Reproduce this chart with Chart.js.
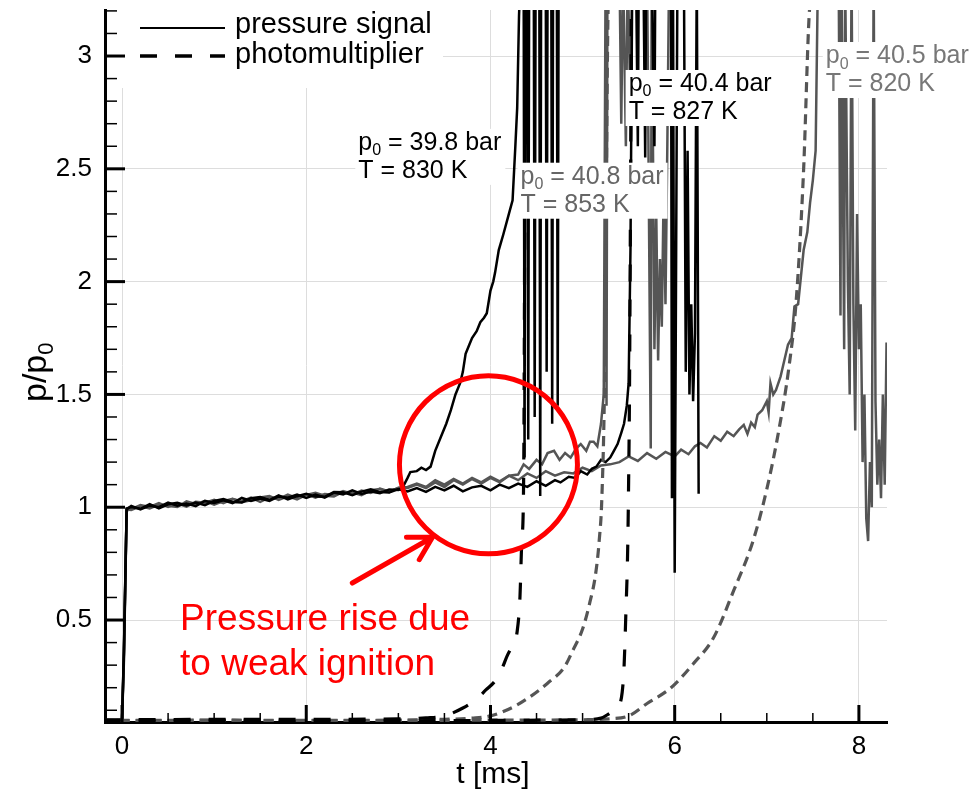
<!DOCTYPE html>
<html>
<head>
<meta charset="utf-8">
<script src="https://cdn.jsdelivr.net/npm/chart.js@4.4.0/dist/chart.umd.min.js"></script>
<style>
    html, body { margin: 0; padding: 0; background: #fff; }
</style>
</head>
<body>
<canvas id="myChart" width="973" height="791"></canvas>
<script>
// time axis (ms) shared by the four pressure traces up to 3 ms
const tPlateau = [-0.2, -0.1, 0.0, 0.02, 0.05, 0.1, 0.2, 0.3, 0.4, 0.5, 0.6, 0.7, 0.8, 0.9, 1.0,
    1.1, 1.2, 1.3, 1.4, 1.5, 1.6, 1.7, 1.8, 1.9, 2.0, 2.1, 2.2, 2.3, 2.4, 2.5, 2.6, 2.7, 2.8, 2.9, 3.0];

// pressure signal p/p0 up to 3 ms
const p398Plateau = [0.056, 0.055, 0.057, 0.36, 0.99, 1.006, 0.99, 1.007, 1.0, 1.021, 1.007, 1.016, 1.005, 1.028, 1.019,
    1.031, 1.018, 1.041, 1.028, 1.039, 1.028, 1.048, 1.042, 1.056, 1.041, 1.056, 1.043, 1.065, 1.057, 1.075, 1.059, 1.07, 1.062, 1.079, 1.076];
const p408Plateau = [0.055, 0.056, 0.056, 0.33, 0.985, 0.992, 1.01, 1.001, 1.018, 1.001, 1.016, 1.003, 1.024, 1.02, 1.033,
    1.018, 1.036, 1.027, 1.043, 1.024, 1.044, 1.037, 1.056, 1.04, 1.057, 1.042, 1.059, 1.055, 1.071, 1.056, 1.074, 1.063, 1.083, 1.07, 1.085];
const p404Plateau = [0.057, 0.056, 0.058, 0.35, 0.995, 1.001, 0.993, 1.014, 0.995, 1.013, 1.02, 1.008, 1.021, 1.009, 1.028,
    1.036, 1.023, 1.021, 1.04, 1.045, 1.032, 1.053, 1.035, 1.049, 1.06, 1.047, 1.046, 1.067, 1.066, 1.053, 1.069, 1.079, 1.067, 1.065, 1.08];
const p405Plateau = [0.055, 0.057, 0.056, 0.31, 0.99, 0.988, 1.004, 0.995, 1.012, 1.006, 1.001, 1.026, 1.015, 1.027, 1.011,
    1.027, 1.037, 1.022, 1.031, 1.043, 1.05, 1.032, 1.048, 1.035, 1.055, 1.064, 1.051, 1.048, 1.068, 1.065, 1.054, 1.075, 1.081, 1.067, 1.086];

// pressure signal after 3 ms (values above 3.2 run off the top)
const p398TailT = [3.05, 3.1, 3.13, 3.2, 3.25, 3.3, 3.35, 3.4, 3.46, 3.52, 3.57, 3.62, 3.67, 3.7, 3.73, 3.77, 3.8, 3.85,
    3.89, 3.93, 3.96, 4.0, 4.03, 4.05, 4.09, 4.14, 4.2, 4.24, 4.27, 4.29, 4.31, 4.33,
    4.36, 4.37, 4.38, 4.40, 4.41, 4.42, 4.47, 4.48, 4.49, 4.53, 4.54, 4.55, 4.6, 4.61, 4.62, 4.66, 4.67, 4.68, 4.72, 4.73, 4.74];
const p398TailV = [1.09, 1.13, 1.156, 1.16, 1.175, 1.165, 1.18, 1.25, 1.31, 1.37, 1.43, 1.5, 1.55, 1.6, 1.68, 1.72, 1.75, 1.78,
    1.82, 1.84, 1.86, 1.96, 2.0, 2.04, 2.14, 2.21, 2.3, 2.36, 2.6, 2.77, 3.18, 3.4,
    3.4, 1.22, 3.4, 3.4, 1.3, 3.4, 3.4, 1.4, 3.4, 3.4, 1.05, 3.4, 3.4, 1.6, 3.4, 3.4, 1.37, 3.4, 3.4, 1.45, 3.4];

const p408TailT = [3.1, 3.2, 3.3, 3.4, 3.5, 3.6, 3.7, 3.8, 3.9, 4.0, 4.1, 4.2, 4.3, 4.36, 4.42, 4.5, 4.56, 4.62, 4.69,
    4.75, 4.81, 4.87, 4.93, 4.98, 5.04, 5.08, 5.12, 5.16, 5.2, 5.23, 5.25,
    5.26, 5.27, 5.4, 5.42, 5.44, 5.47, 5.49, 5.52, 5.54, 5.7, 5.74, 5.75, 5.78, 5.8, 5.82, 5.84, 5.86, 5.88, 5.9, 5.92, 5.94];
const p408TailV = [1.085, 1.1, 1.085, 1.11, 1.09, 1.12, 1.1, 1.125, 1.105, 1.13, 1.11, 1.14, 1.145, 1.19, 1.17, 1.21, 1.19, 1.24, 1.25,
    1.21, 1.24, 1.22, 1.26, 1.28, 1.25, 1.29, 1.29, 1.27, 1.37, 1.5, 3.4,
    1.45, 3.4, 3.4, 2.7, 3.4, 2.6, 3.4, 2.75, 3.4, 3.4, 1.26, 3.4, 1.7, 2.3, 1.65, 2.1, 1.8, 2.4, 1.9, 2.6, 3.4];

const p404TailT = [3.1, 3.2, 3.3, 3.4, 3.5, 3.6, 3.7, 3.8, 3.9, 4.0, 4.1, 4.2, 4.3, 4.4, 4.5, 4.6, 4.7, 4.76, 4.85, 4.92,
    4.98, 5.05, 5.1, 5.15, 5.2, 5.25, 5.3, 5.34, 5.38, 5.42, 5.45, 5.48, 5.5, 5.52, 5.54,
    5.58, 5.6, 5.61, 5.66, 5.68, 5.69, 5.75, 5.78, 5.79, 5.96, 5.97, 5.98, 6.0, 6.03, 6.1, 6.12, 6.14, 6.16, 6.18, 6.2, 6.22, 6.24, 6.26];
const p404TailV = [1.07, 1.085, 1.068, 1.09, 1.075, 1.095, 1.07, 1.088, 1.095, 1.075, 1.1, 1.085, 1.105, 1.09, 1.115, 1.095, 1.12, 1.11, 1.135, 1.13,
    1.16, 1.145, 1.17, 1.18, 1.21, 1.2, 1.22, 1.25, 1.28, 1.33, 1.37, 1.45, 1.55, 2.14, 3.4,
    3.4, 2.6, 3.4, 3.4, 2.55, 3.4, 3.4, 2.6, 3.4, 3.4, 1.04, 3.4, 0.71, 3.4, 3.4, 1.6, 2.58, 1.5, 1.9, 1.47, 1.77, 3.4, 1.06];

const p405TailT = [3.1, 3.2, 3.3, 3.4, 3.5, 3.6, 3.7, 3.8, 3.9, 4.0, 4.1, 4.2, 4.3, 4.4, 4.5, 4.6, 4.7, 4.8, 4.9, 5.0,
    5.1, 5.2, 5.3, 5.4, 5.5, 5.6, 5.7, 5.8, 5.9, 6.0, 6.07, 6.15, 6.22, 6.28, 6.35, 6.43, 6.5, 6.57, 6.64, 6.7,
    6.75, 6.79, 6.83, 6.87, 6.9, 6.95, 7.0, 7.02, 7.04, 7.07, 7.1, 7.15, 7.19, 7.23, 7.27, 7.3, 7.34, 7.37, 7.4,
    7.44, 7.47, 7.5, 7.53, 7.55, 7.56,
    7.78, 7.8, 7.81, 7.84, 7.85, 7.88, 7.9, 7.92, 7.94, 7.96, 7.98, 8.0, 8.02, 8.04, 8.06, 8.08, 8.1, 8.12, 8.14,
    8.16, 8.18, 8.2, 8.22, 8.24, 8.26, 8.28, 8.3];
const p405TailV = [1.09, 1.105, 1.09, 1.12, 1.1, 1.125, 1.105, 1.13, 1.11, 1.135, 1.115, 1.14, 1.12, 1.15, 1.13, 1.16, 1.14, 1.155, 1.15, 1.175,
    1.16, 1.185, 1.19, 1.2, 1.225, 1.205, 1.24, 1.215, 1.245, 1.225, 1.255, 1.235, 1.27, 1.285, 1.265, 1.315, 1.295, 1.335, 1.315, 1.345,
    1.365, 1.325, 1.375, 1.355, 1.41, 1.43, 1.47, 1.42, 1.55, 1.5, 1.52, 1.58, 1.65, 1.72, 1.75, 1.89, 1.9, 2.02, 2.14,
    2.22, 2.35, 2.45, 2.58, 3.2, 3.4,
    3.4, 1.85, 3.4, 1.7, 3.4, 2.0, 1.5, 3.4, 1.9, 1.34, 2.3, 1.7, 1.9, 1.2, 1.5, 0.95, 0.85, 1.2, 1.0,
    3.4, 1.47, 1.1, 1.3, 1.04, 1.5, 1.1, 1.73];

// photomultiplier signals
const pm398T = [-0.2, 0, 1, 2, 3.0, 3.3, 3.5, 3.7, 3.85, 3.95, 4.05, 4.12, 4.18, 4.24, 4.29, 4.32, 4.34, 4.36, 4.38];
const pm398V = [0.058, 0.058, 0.06, 0.06, 0.062, 0.066, 0.075, 0.11, 0.15, 0.19, 0.23, 0.28, 0.34, 0.39, 0.45, 0.6, 0.85, 1.12, 3.3];
const pm408T = [-0.2, 0, 1, 2, 3.0, 3.5, 3.8, 4.0, 4.25, 4.43, 4.62, 4.8, 4.9, 5.0, 5.08, 5.14, 5.18, 5.21, 5.24, 5.27, 5.28];
const pm408V = [0.055, 0.055, 0.056, 0.055, 0.056, 0.06, 0.065, 0.075, 0.115, 0.16, 0.22, 0.29, 0.37, 0.46, 0.58, 0.7, 0.85, 1.05, 1.6, 3.0, 3.3];
const pm404T = [-0.2, 0, 1, 2, 3, 4, 5.0, 5.2, 5.3, 5.39, 5.43, 5.45, 5.47, 5.49, 5.5, 5.51, 5.53];
const pm404V = [0.052, 0.052, 0.053, 0.052, 0.053, 0.055, 0.058, 0.065, 0.088, 0.115, 0.18, 0.29, 0.53, 0.82, 1.12, 1.55, 3.3];
const pm405T = [-0.2, 0, 1, 2, 3, 4, 5.0, 5.3, 5.5, 5.7, 5.96, 6.21, 6.42, 6.64, 6.85, 7.0, 7.13, 7.24, 7.32, 7.4, 7.46, 7.5];
const pm405V = [0.054, 0.054, 0.055, 0.054, 0.055, 0.056, 0.058, 0.062, 0.075, 0.13, 0.2, 0.31, 0.42, 0.63, 0.85, 1.08, 1.34, 1.62, 1.92, 2.5, 3.18, 3.3];

const xTickValues = [0, 2, 4, 6, 8];
const yTickValues = [0.5, 1, 1.5, 2, 2.5, 3];

// run labels (initial pressure, temperature) and where they sit (t, p/p0 of first line)
const runPressure = ['39.8', '40.8', '40.4', '40.5'];
const runTemperature = ['830', '853', '827', '820'];
const labelT = [2.565, 4.326, 5.5, 7.64];
const labelV = [2.584, 2.434, 2.845, 2.969];
const labelColors = ['#000000', '#666666', '#000000', '#777777'];

const legendLabels = ['pressure signal', 'photomultiplier'];
const noteLines = ['Pressure rise due', 'to weak ignition'];

const FONT = '"Liberation Sans", Arial, Helvetica, sans-serif';
const BLACK = '#000000';
const GRAY = '#555555';
const RED = '#ff0000';

function toPoints(ts, vs) {
    return ts.map((t, i) => ({ x: t, y: vs[i] }));
}

function pressureSet(label, plateau, tailT, tailV, color) {
    return {
        label: label,
        data: toPoints(tPlateau.concat(tailT), plateau.concat(tailV)),
        borderColor: color,
        borderWidth: 2.5,
        pointRadius: 0,
        showLine: true,
        tension: 0
    };
}

function pmSet(label, ts, vs, color, dash) {
    return {
        label: label,
        data: toPoints(ts, vs),
        borderColor: color,
        borderWidth: 3.2,
        borderDash: dash,
        pointRadius: 0,
        showLine: true,
        cubicInterpolationMode: 'monotone'
    };
}

// text with subscript parts: [{text, sub}]
function measureParts(ctx, parts, size) {
    let w = 0;
    parts.forEach(p => {
        ctx.font = (p.sub ? Math.round(size * 0.65) : size) + 'px ' + FONT;
        w += ctx.measureText(p.text).width;
    });
    return w;
}

function drawParts(ctx, parts, x, y, size) {
    let cx = x;
    parts.forEach(p => {
        ctx.font = (p.sub ? Math.round(size * 0.65) : size) + 'px ' + FONT;
        ctx.fillText(p.text, cx, y + (p.sub ? size * 0.22 : 0));
        cx += ctx.measureText(p.text).width;
    });
}

const overlayPlugin = {
    id: 'overlay',
    afterDatasetsDraw(chart) {
        const ctx = chart.ctx;
        const xs = chart.scales.x;
        const ys = chart.scales.y;
        const area = chart.chartArea;
        ctx.save();
        ctx.textBaseline = 'alphabetic';
        ctx.textAlign = 'left';

        // run labels on white boxes
        runPressure.forEach((p, i) => {
            const x = xs.getPixelForValue(labelT[i]);
            const y = ys.getPixelForValue(labelV[i]);
            const line1 = [{ text: 'p' }, { text: '0', sub: true }, { text: ' = ' + p + ' bar' }];
            const line2 = [{ text: 'T = ' + runTemperature[i] + ' K' }];
            const w = Math.max(measureParts(ctx, line1, 25), measureParts(ctx, line2, 25));
            ctx.fillStyle = '#ffffff';
            ctx.fillRect(x - 3, y - 21, w + 7, 56);
            ctx.fillStyle = labelColors[i];
            drawParts(ctx, line1, x, y, 25);
            drawParts(ctx, line2, x, y + 28, 25);
        });

        // legend
        const lx = area.left;
        const ly = area.top;
        ctx.fillStyle = '#ffffff';
        ctx.fillRect(lx + 3, ly, 335, 78);
        ctx.strokeStyle = BLACK;
        ctx.lineWidth = 2;
        ctx.setLineDash([]);
        ctx.beginPath();
        ctx.moveTo(lx + 35, ly + 18);
        ctx.lineTo(lx + 120, ly + 18);
        ctx.stroke();
        ctx.lineWidth = 3.5;
        ctx.setLineDash([17, 18]);
        ctx.beginPath();
        ctx.moveTo(lx + 35, ly + 46);
        ctx.lineTo(lx + 120, ly + 46);
        ctx.stroke();
        ctx.setLineDash([]);
        ctx.fillStyle = BLACK;
        ctx.font = '29px ' + FONT;
        ctx.fillText(legendLabels[0], lx + 130, ly + 23);
        ctx.fillText(legendLabels[1], lx + 130, ly + 53);

        // inward ticks
        ctx.strokeStyle = BLACK;
        for (let k = 1; k <= 32; k++) {
            const y = ys.getPixelForValue(k / 10);
            const major = k % 5 === 0;
            ctx.lineWidth = major ? 3 : 1.5;
            ctx.beginPath();
            ctx.moveTo(area.left, y);
            ctx.lineTo(area.left + (major ? 20 : 12), y);
            ctx.stroke();
        }
        for (let k = 0; k <= 16; k++) {
            const x = xs.getPixelForValue(k / 2);
            const major = k % 4 === 0;
            ctx.lineWidth = major ? 3 : 1.5;
            ctx.beginPath();
            ctx.moveTo(x, area.bottom);
            ctx.lineTo(x, area.bottom - (major ? 17 : 9));
            ctx.stroke();
        }

        // axis titles
        ctx.fillStyle = BLACK;
        ctx.font = '30px ' + FONT;
        ctx.textAlign = 'center';
        ctx.fillText('t [ms]', (area.left + area.right) / 2 - 3, 783);
        ctx.textAlign = 'left';
        ctx.save();
        ctx.translate(46, 402);
        ctx.rotate(-Math.PI / 2);
        drawParts(ctx, [{ text: 'p/p' }, { text: '0', sub: true }], 0, 0, 34);
        ctx.restore();

        // red circle, arrow and note
        ctx.strokeStyle = RED;
        ctx.fillStyle = RED;
        ctx.lineWidth = 5;
        ctx.beginPath();
        ctx.arc(xs.getPixelForValue(3.978), ys.getPixelForValue(1.188), 89, 0, Math.PI * 2);
        ctx.stroke();
        const ax0 = xs.getPixelForValue(2.5), ay0 = ys.getPixelForValue(0.664);
        const ax1 = xs.getPixelForValue(3.37), ay1 = ys.getPixelForValue(0.867);
        const ang = Math.atan2(ay1 - ay0, ax1 - ax0);
        ctx.lineCap = 'round';
        ctx.beginPath();
        ctx.moveTo(ax0, ay0);
        ctx.lineTo(ax1, ay1);
        ctx.moveTo(ax1 + 26 * Math.cos(ang + Math.PI - 0.52), ay1 + 26 * Math.sin(ang + Math.PI - 0.52));
        ctx.lineTo(ax1, ay1);
        ctx.lineTo(ax1 + 26 * Math.cos(ang + Math.PI + 0.52), ay1 + 26 * Math.sin(ang + Math.PI + 0.52));
        ctx.stroke();
        ctx.font = '37px ' + FONT;
        const nx = xs.getPixelForValue(0.63);
        const ny = ys.getPixelForValue(0.456);
        ctx.fillText(noteLines[0], nx, ny);
        ctx.fillText(noteLines[1], nx, ny + 45);
        ctx.restore();
    }
};

const ctx = document.getElementById('myChart').getContext('2d');
Chart.defaults.font.family = FONT;

window.myChart = new Chart(ctx, {
    type: 'scatter',
    data: {
        datasets: [
            pmSet('pm 39.8', pm398T, pm398V, BLACK, [17, 18]),
            pmSet('pm 40.4', pm404T, pm404V, BLACK, [17, 18]),
            pmSet('pm 40.8', pm408T, pm408V, GRAY, [10, 6]),
            pmSet('pm 40.5', pm405T, pm405V, GRAY, [10, 6]),
            pressureSet('p 39.8', p398Plateau, p398TailT, p398TailV, BLACK),
            pressureSet('p 40.4', p404Plateau, p404TailT, p404TailV, BLACK),
            pressureSet('p 40.8', p408Plateau, p408TailT, p408TailV, GRAY),
            pressureSet('p 40.5', p405Plateau, p405TailT, p405TailV, GRAY)
        ]
    },
    options: {
        responsive: false,
        animation: false,
        layout: {
            padding: { top: 10, right: 86, left: 0, bottom: 0 }
        },
        plugins: {
            legend: { display: false },
            tooltip: { enabled: false }
        },
        scales: {
            x: {
                type: 'linear',
                min: -0.185,
                max: 8.305,
                afterBuildTicks: scale => { scale.ticks = xTickValues.map(v => ({ value: v })); },
                afterFit: scale => {
                    scale.height = 69;
                    scale.paddingLeft = 0;
                    scale.paddingRight = 0;
                },
                grid: { color: '#dddddd', lineWidth: 1, drawTicks: false },
                border: { color: BLACK, width: 3 },
                ticks: {
                    autoSkip: false,
                    maxRotation: 0,
                    padding: 9,
                    color: BLACK,
                    font: { size: 26 },
                    callback: v => String(v)
                }
            },
            y: {
                type: 'linear',
                min: 0.048,
                max: 3.204,
                afterBuildTicks: scale => { scale.ticks = yTickValues.map(v => ({ value: v })); },
                afterFit: scale => {
                    scale.width = 105;
                    scale.paddingTop = 0;
                    scale.paddingBottom = 0;
                },
                grid: { color: '#dddddd', lineWidth: 1, drawTicks: false },
                border: { color: BLACK, width: 3 },
                ticks: {
                    autoSkip: false,
                    padding: 13,
                    color: BLACK,
                    font: { size: 26 },
                    callback: v => String(v)
                }
            }
        }
    },
    plugins: [overlayPlugin]
});
</script>
</body>
</html>
